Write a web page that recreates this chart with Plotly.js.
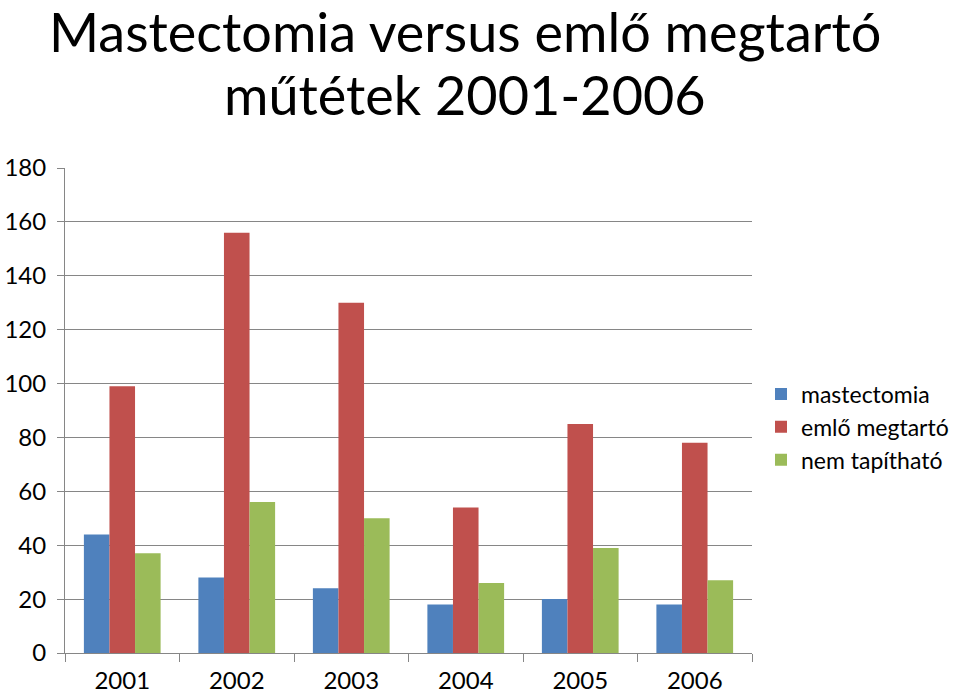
<!DOCTYPE html>
<html><head><meta charset="utf-8">
<script src="https://cdn.plot.ly/plotly-3.0.1.min.js"></script>
<style>html,body{margin:0;padding:0;background:#fff}#chart{width:960px;height:696px}</style>
</head><body><div id="chart"></div>
<script>
const years = ['2001','2002','2003','2004','2005','2006'];
const mastectomia = [44, 28, 24, 18, 20, 18];
const emloMegtarto = [99, 156, 130, 54, 85, 78];
const nemTapithato = [37, 56, 50, 26, 39, 27];
const seriesNames = ['mastectomia', 'emlő megtartó', 'nem tapítható'];
const colors = ['#4F81BD', '#C0504D', '#9BBB59'];
const yTicks = [0,20,40,60,80,100,120,140,160,180];
const titleLines = ['Mastectomia versus emlő megtartó', 'műtétek 2001-2006'];

const font = "Lato, 'Open Sans', 'DejaVu Sans', sans-serif";
const data = [mastectomia, emloMegtarto, nemTapithato].map((v,i)=>({
  type:'bar', x: years, y: v, name: seriesNames[i], marker:{color: colors[i]}
}));
const layout = {
  width:960, height:696,
  margin:{l:65, r:208, t:168, b:43},
  paper_bgcolor:'#fff', plot_bgcolor:'#fff',
  barmode:'group', bargap:0.33, bargroupgap:0,
  font:{family:font, color:'#000'},
  annotations: titleLines.map((t,i)=>({
    text:t, xref:'paper', yref:'paper', x:0.582, xanchor:'center',
    y:1 + (168 - (i===0 ? 31 : 94))/485, yanchor:'middle', showarrow:false,
    font:{family:font, size:54, color:'#000'}
  })),
  xaxis:{type:'category', showline:true, linecolor:'#868686', linewidth:1, ticks:'outside', tickson:'boundaries',
    ticklen:8, tickcolor:'#868686', tickfont:{size:24, color:'#000'}, showgrid:false, ticklabelstandoff:6},
  yaxis:{range:[0,180], tickvals:yTicks, showline:true, linecolor:'#868686', linewidth:1, ticks:'outside', ticklen:7,
    tickcolor:'#868686', gridcolor:'#868686', gridwidth:1, tickfont:{size:24, color:'#000'}, zeroline:false, ticklabelstandoff:6},
  legend:{xref:'container', yref:'container', x:761/960, xanchor:'left', y:(696-427)/696, yanchor:'middle',
    font:{size:23, color:'#000'}, tracegroupgap:0, itemwidth:30}
};
Plotly.newPlot('chart', data, layout, {displayModeBar:false});
</script></body></html>
